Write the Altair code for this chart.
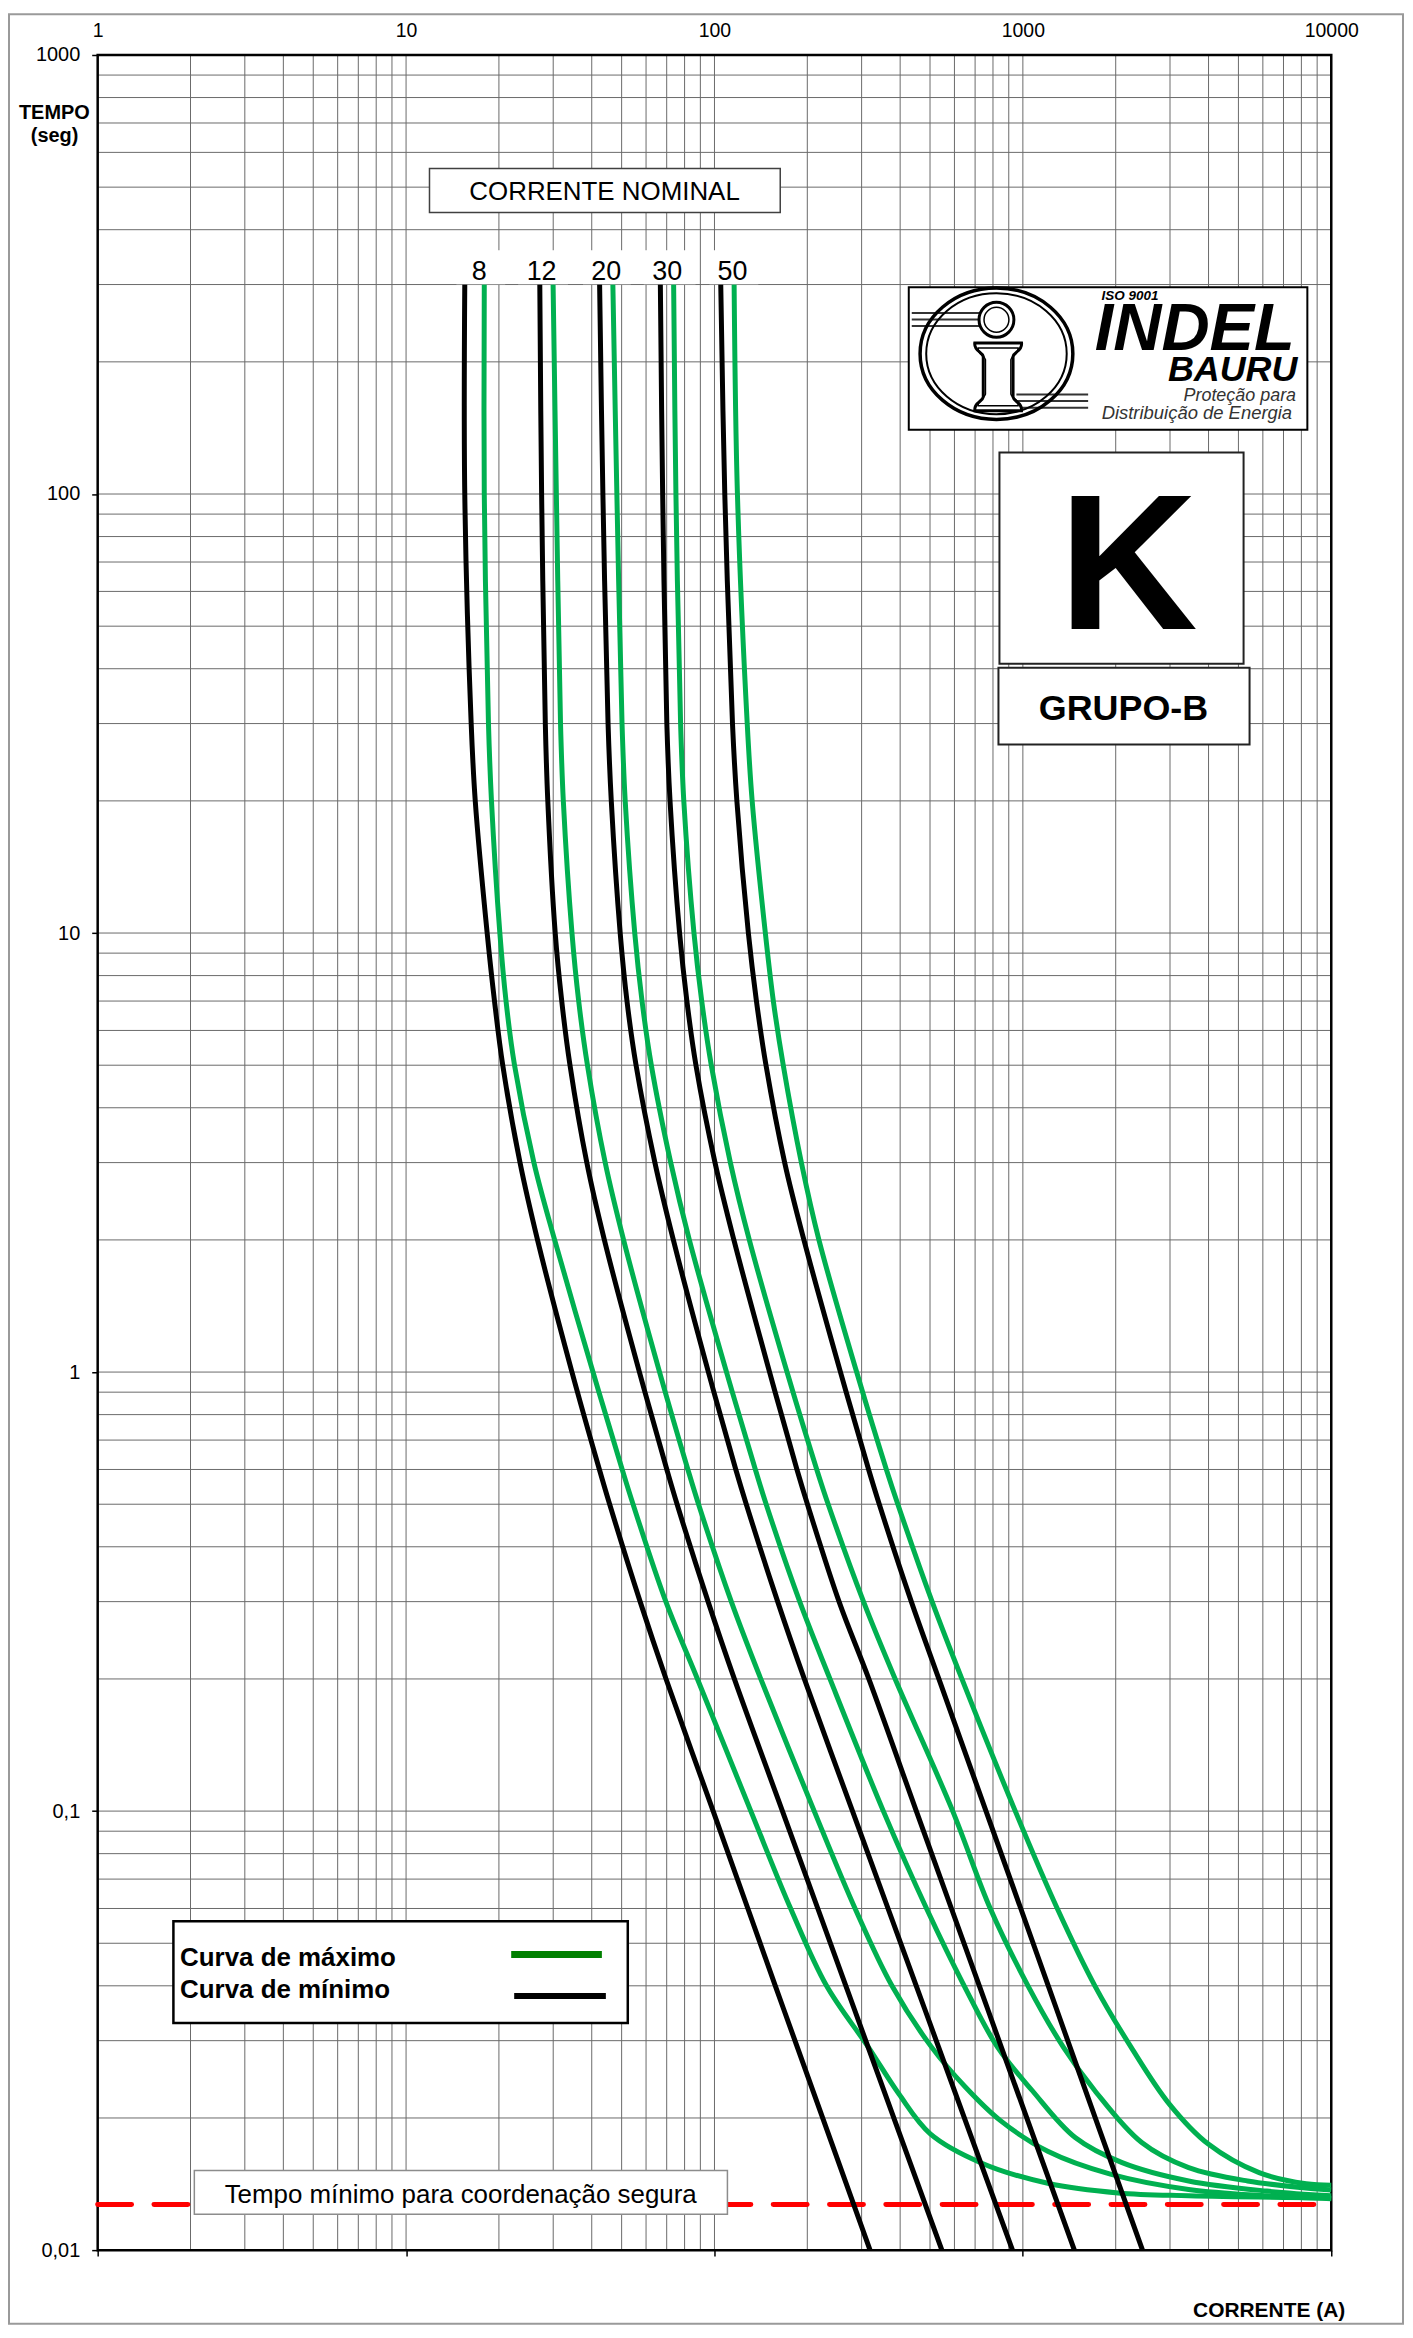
import altair as alt
import pandas as pd

FONT = "Liberation Sans"
X0, Y0 = 98, 51          # plot origin on the page
W, H = 1238, 2203        # plot area size

# ---------------- grid / axes values ----------------
grid_x = [k * 10 ** n for n in range(0, 4) for k in range(1, 10)] + [10000]
grid_y = [round(k * 10.0 ** n, 4) for n in range(-2, 3) for k in range(1, 10)] + [1000]
decades_x = [1, 10, 100, 1000, 10000]
decades_y = [0.01, 0.1, 1, 10, 100, 1000]

ratings = ["8", "12", "20", "30", "50"]

# ---------------- minimum melting curves (black) ----------------
t_min = [300, 100, 30, 20, 10, 7, 5, 3, 2, 1, 0.6, 0.5, 0.3, 0.2, 0.1, 0.06, 0.04, 0.029, 0.01]
min_8 = [15.5, 15.5, 16.26, 16.76, 18.32, 19.35, 20.58, 23.41, 26.68, 34.51, 42.35, 45.72, 57.41, 69.66, 99.04, 128.3, 157.5, 185.6, 319.5]
min_12 = [27.14, 27.51, 28.28, 28.81, 30.45, 31.97, 34.0, 38.55, 43.95, 57.1, 70.07, 75.65, 95.35, 116.0, 166.1, 216.3, 266.7, 314.9, 546.2]
min_20 = [42.42, 43.47, 45.18, 46.28, 49.46, 52.03, 55.68, 64.1, 73.56, 95.57, 117.25, 126.8, 160.3, 195.6, 280.3, 365.4, 451.1, 533.0, 925.5]
min_30 = [66.76, 67.92, 70.07, 71.76, 77.07, 81.38, 87.07, 100.4, 115.6, 150.9, 185.1, 200.2, 253.5, 316.6, 451.4, 586.6, 722.5, 851.3, 1469]
min_50 = [104.8, 108.0, 114.4, 118.2, 128.8, 136.8, 146.9, 168.9, 195.0, 256.2, 316.1, 342.3, 434.8, 534.1, 759.5, 984.5, 1209, 1422, 2443]

# ---------------- maximum clearing curves (green) ----------------
t_max_8 = [300, 100, 30, 20, 10, 7, 5, 3, 2, 1, 0.6, 0.5, 0.3, 0.2, 0.1, 0.06, 0.04, 0.029, 0.0227, 0.0184, 0.0158, 0.0142, 0.0135, 0.0133, 0.01315]
max_8 = [17.93, 17.93, 18.5, 18.92, 20.14, 21.09, 22.47, 25.97, 30.32, 40.37, 50.21, 54.45, 69.56, 88.06, 131.2, 176.6, 230.9, 315.4, 396, 501, 733, 1204, 2037, 3448, 10000]
t_max_12 = [300, 100, 30, 20, 10, 7, 5, 3, 2, 1, 0.6, 0.5, 0.3, 0.2, 0.1, 0.06, 0.04, 0.029, 0.0235, 0.0197, 0.0168, 0.0149, 0.01375, 0.0133, 0.0131]
max_12 = [29.97, 30.71, 31.68, 32.35, 34.51, 36.28, 38.73, 44.22, 50.73, 66.37, 81.99, 88.78, 113.4, 141.3, 210.6, 285.7, 376.3, 505.8, 652, 848, 1204, 1922, 3448, 6186, 10000]
t_max_20 = [300, 100, 30, 20, 10, 7, 5, 3, 2, 1, 0.6, 0.5, 0.3, 0.2, 0.1, 0.06, 0.04, 0.029, 0.0231, 0.01805, 0.01582, 0.01437, 0.01363, 0.0133]
max_20 = [46.83, 48.25, 50.15, 51.35, 55.14, 58.22, 62.41, 72.14, 82.89, 109.4, 135.7, 147.1, 189.0, 236.9, 352.9, 487.1, 645.2, 827.7, 1072, 1478, 2098, 3448, 6186, 10000]
t_max_30 = [300, 100, 30, 20, 10, 7, 5, 3, 2, 1, 0.6, 0.5, 0.3, 0.2, 0.1, 0.06, 0.04, 0.029, 0.0231, 0.01758, 0.01541, 0.01437, 0.0137]
max_30 = [73.72, 74.99, 77.65, 79.53, 85.8, 90.93, 97.66, 112.6, 129.7, 171.9, 214.6, 233.7, 304.3, 385.4, 592.3, 784.0, 1039, 1353, 1710, 2429, 3448, 5350, 10000]
t_max_50 = [300, 100, 30, 20, 10, 7, 5, 3, 2, 1, 0.6, 0.5, 0.3, 0.2, 0.1, 0.06, 0.04, 0.029, 0.02154, 0.01744, 0.01501, 0.01416, 0.01405]
max_50 = [115.8, 118.7, 127.7, 132.5, 146.2, 155.2, 167.1, 191.3, 218.1, 289.1, 360.9, 393.1, 507.8, 634.3, 944.9, 1293, 1712, 2243, 2981, 3993, 5837, 8290, 10000]

min_time_coord = 0.0127   # "Tempo mínimo para coordenação segura"

# ---------------- tables ----------------
def build(kind, series):
    rows = []
    for r, ts, cs in series:
        for k, (t, c) in enumerate(zip(ts, cs)):
            rows.append({"rating": r, "kind": kind, "idx": k, "I": c, "t": t})
    return pd.DataFrame(rows)

df_min = build("min", [("8", t_min, min_8), ("12", t_min, min_12), ("20", t_min, min_20),
                       ("30", t_min, min_30), ("50", t_min, min_50)])
df_max = build("max", [("8", t_max_8, max_8), ("12", t_max_12, max_12), ("20", t_max_20, max_20),
                       ("30", t_max_30, max_30), ("50", t_max_50, max_50)])

xs = alt.Scale(type="log", domain=[1, 10000], nice=False)
ys = alt.Scale(type="log", domain=[0.01, 1000], nice=False)

GRID = "#6a6a6a"

top_axis = alt.Axis(orient="top", values=decades_x, labelExpr="format(datum.value, 'd')",
                    ticks=False, domain=False, grid=False, labelFontSize=19.5, labelPadding=15,
                    labelColor="black", labelFont=FONT, labelFlush=False, labelOverlap=False, title=None)
bottom_axis = alt.Axis(orient="bottom", values=decades_x, labels=False, tickSize=6, tickColor="black",
                       tickWidth=1.5, domain=False, grid=False, title=None)
left_axis = alt.Axis(orient="left", values=decades_y,
                     labelExpr="replace(format(datum.value, '~g'), '.', ',')",
                     tickSize=6, tickColor="black", tickWidth=1.5, domain=False, grid=False,
                     labelFontSize=20, labelPadding=12, labelColor="black", labelFont=FONT,
                     labelOverlap=False, title=None)

vgrid = alt.Chart(pd.DataFrame({"gx": grid_x})).mark_rule(color=GRID, strokeWidth=1).encode(
    x=alt.X("gx:Q", scale=xs, axis=bottom_axis))
hgrid = alt.Chart(pd.DataFrame({"gy": grid_y})).mark_rule(color=GRID, strokeWidth=1).encode(
    y=alt.Y("gy:Q", scale=ys, axis=left_axis))

border = alt.Chart(pd.DataFrame({"x0": [1], "x1": [10000], "y0": [0.01], "y1": [1000]})).mark_rect(
    fillOpacity=0, stroke="black", strokeWidth=2.5).encode(
    x=alt.X("x0:Q", scale=xs, axis=None), x2="x1:Q",
    y=alt.Y("y0:Q", scale=ys, axis=None), y2="y1:Q")

red = alt.Chart(pd.DataFrame({"a": [1], "b": [10000], "t": [min_time_coord]})).mark_rule(
    color="#FF0000", strokeWidth=5, strokeDash=[34, 22.5], strokeCap="round").encode(
    x=alt.X("a:Q", scale=xs, axis=None), x2="b:Q", y=alt.Y("t:Q", scale=ys, axis=None))

green = alt.Chart(df_max).mark_line(strokeWidth=5, interpolate="catmull-rom", color="#00B050").encode(
    x=alt.X("I:Q", scale=xs, axis=top_axis),
    y=alt.Y("t:Q", scale=ys, axis=None),
    detail="rating:N", order="idx:Q")
black = alt.Chart(df_min).mark_line(strokeWidth=5, interpolate="catmull-rom", color="#000000").encode(
    x=alt.X("I:Q", scale=xs, axis=None),
    y=alt.Y("t:Q", scale=ys, axis=None),
    detail="rating:N", order="idx:Q")

ONE = alt.Data(values=[{"a": 1}])


def box(x0, y0, x1, y1, stroke=None, sw=0, fill="white"):
    kw = dict(fill=fill)
    if stroke:
        kw.update(stroke=stroke, strokeWidth=sw)
    else:
        kw.update(strokeWidth=0)
    return alt.Chart(ONE).mark_rect(**kw).encode(
        x=alt.value(x0 - X0), x2=alt.value(x1 - X0), y=alt.value(y0 - Y0), y2=alt.value(y1 - Y0))


def txt(s, x, y, size, bold=False, italic=False, align="center", color="black"):
    return alt.Chart(ONE).mark_text(
        text=s, fontSize=size, font=FONT, fontWeight="bold" if bold else "normal",
        fontStyle="italic" if italic else "normal", align=align, baseline="alphabetic",
        color=color).encode(x=alt.value(x - X0), y=alt.value(y - Y0))


def hline(x0, x1, y, color, w):
    return alt.Chart(ONE).mark_rule(color=color, strokeWidth=w).encode(
        x=alt.value(x0 - X0), x2=alt.value(x1 - X0), y=alt.value(y - Y0))


def sym(shape, x, y, size, sw, fill="transparent", stroke="black"):
    return alt.Chart(ONE).mark_point(shape=shape, size=size, filled=True, fill=fill, stroke=stroke,
                                     strokeWidth=sw, opacity=1).encode(
        x=alt.value(x - X0), y=alt.value(y - Y0))


ELLIPSE = "M -1 0 A 1 0.86 0 1 1 1 0 A 1 0.86 0 1 1 -1 0 Z"
IBEAM = ("M -0.69 -1 L 0.69 -1 C 0.72 -0.75 0.46 -0.75 0.44 -0.6 L 0.44 0.6 "
         "C 0.46 0.75 0.72 0.75 0.69 1 L -0.69 1 C -0.72 0.75 -0.46 0.75 -0.44 0.6 "
         "L -0.44 -0.6 C -0.46 -0.75 -0.72 -0.75 -0.69 -1 Z")

label_x = [481, 543.5, 608.3, 669.5, 735]
label_boxes = [(458, 507), (520, 570), (585, 633), (646, 698), (712, 761)]

deco = []
# outer frame of the sheet
deco.append(box(9, 10, 1408, 2328, stroke="#9a9a9a", sw=2, fill="transparent"))
# axis titles
deco.append(txt("TEMPO", 54.5, 115, 20, bold=True))
deco.append(txt("(seg)", 54.7, 138.5, 20, bold=True))
deco.append(txt("CORRENTE (A)", 1350, 2321, 21, bold=True, align="right"))
# rated current header and labels
deco.append(box(431, 165, 783, 209, stroke="#404040", sw=1.5))
deco.append(txt("CORRENTE NOMINAL", 606.7, 196.7, 26))
for (a, b), lx, r in zip(label_boxes, label_x, ratings):
    deco.append(box(a, 247, b, 281))
    deco.append(txt(r, lx, 276.7, 27))
# logo
deco.append(box(912, 284, 1312, 427, stroke="black", sw=2))
for yy in (310, 316.5, 323):
    deco.append(hline(915, 983, yy, "#333333", 2))
for yy in (391.7, 398.3, 405):
    deco.append(hline(1020, 1092, yy, "#333333", 2))
deco.append(sym(ELLIPSE, 1000, 350.8, 153.3 ** 2, 3.5))
deco.append(sym(ELLIPSE, 1000, 350.8, 141 ** 2, 2))
deco.append(sym("circle", 1000, 316.7, 35 ** 2, 3, fill="white"))
deco.append(sym("circle", 1000, 316.7, 25 ** 2, 1.5))
deco.append(sym(IBEAM, 1001.7, 374, 68 ** 2, 3, fill="white"))
deco.append(sym(IBEAM, 1001.7, 374, 58 ** 2, 1.5))
deco.append(txt("ISO 9001", 1134, 297, 13.5, bold=True, italic=True))
deco.append(txt("INDEL", 1199, 347, 67, bold=True, italic=True))
deco.append(txt("BAURU", 1237, 378.5, 36, bold=True, italic=True))
deco.append(txt("Proteção para", 1300.7, 398.5, 18, italic=True, align="right", color="#333333"))
deco.append(txt("Distribuição de Energia", 1296.7, 416.5, 18.5, italic=True, align="right", color="#333333"))
# fuse type
deco.append(box(1003, 450, 1248, 662, stroke="#222222", sw=2))
deco.append(txt("K", 1132.3, 626.7, 193, bold=True))
deco.append(box(1002, 666, 1254, 743, stroke="#222222", sw=2))
deco.append(txt("GRUPO-B", 1127.5, 718.3, 36, bold=True))
# legend
deco.append(box(174, 1924, 630, 2026, stroke="black", sw=2.5))
deco.append(txt("Curva de máximo", 180.7, 1969, 26, bold=True, align="left"))
deco.append(txt("Curva de mínimo", 180.7, 2000.7, 26, bold=True, align="left"))
deco.append(hline(513, 604, 1957.3, "#008000", 7))
deco.append(hline(516, 608, 1999, "#000000", 6))
# minimum coordination time note
deco.append(box(195, 2174, 730, 2218, stroke="#8c8c8c", sw=1.5))
deco.append(txt("Tempo mínimo para coordenação segura", 462.3, 2206.4, 26))

chart = alt.layer(vgrid, hgrid, border, red, green, black, *deco).resolve_axis(
    x="independent", y="independent").properties(
    width=W, height=H,
    padding={"left": 90, "top": 43, "right": 74, "bottom": 76},
    autosize=alt.AutoSizeParams(type="none"),
    background="white",
).configure(font=FONT).configure_view(stroke=None)

chart.save("out.html", embed_options={"renderer": "svg", "actions": False})
